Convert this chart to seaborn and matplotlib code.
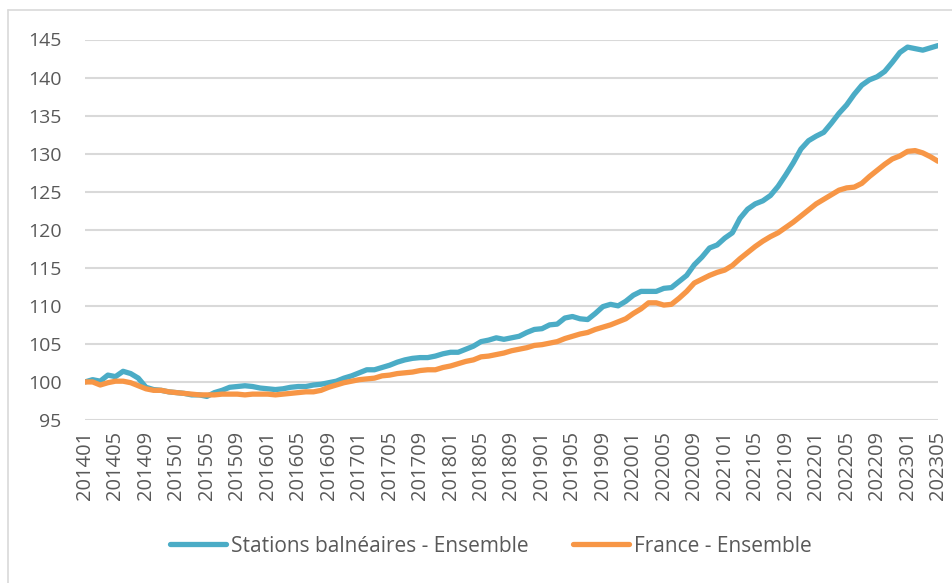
import matplotlib
matplotlib.use("Agg")
import matplotlib.pyplot as plt
import seaborn as sns
import pandas as pd
from matplotlib.lines import Line2D

# ---- data ----
months = [f"{y}{m:02d}" for y in range(2014, 2024) for m in range(1, 13)][:113]
tick_labels = months[::4]

stations = [
    100.0, 100.3, 100.1, 100.9, 100.7, 101.4, 101.1, 100.5, 99.3, 99.0,
    98.9, 98.7, 98.6, 98.5, 98.3, 98.3, 98.1, 98.6, 98.9, 99.3,
    99.4, 99.5, 99.4, 99.2, 99.1, 99.0, 99.1, 99.3, 99.4, 99.4,
    99.6, 99.7, 99.9, 100.1, 100.5, 100.8, 101.2, 101.6, 101.6, 101.9,
    102.2, 102.6, 102.9, 103.1, 103.2, 103.2, 103.4, 103.7, 103.9, 103.9,
    104.3, 104.7, 105.3, 105.5, 105.8, 105.6, 105.8, 106.0, 106.5, 106.9,
    107.0, 107.5, 107.6, 108.4, 108.6, 108.3, 108.2, 109.0, 109.9, 110.2,
    110.0, 110.6, 111.4, 111.9, 111.9, 111.9, 112.3, 112.4, 113.2, 114.0,
    115.4, 116.4, 117.6, 118.0, 118.9, 119.6, 121.5, 122.7, 123.4, 123.8,
    124.5, 125.7, 127.2, 128.8, 130.6, 131.7, 132.3, 132.8, 134.0, 135.3,
    136.4, 137.8, 139.0, 139.7, 140.1, 140.8, 142.0, 143.3, 144.0, 143.8,
    143.6, 143.9, 144.2,
]
france = [
    100.0, 100.0, 99.6, 99.9, 100.1, 100.1, 99.9, 99.5, 99.1, 98.9,
    98.9, 98.7, 98.6, 98.5, 98.4, 98.3, 98.3, 98.3, 98.4, 98.4,
    98.4, 98.3, 98.4, 98.4, 98.4, 98.3, 98.4, 98.5, 98.6, 98.7,
    98.7, 98.9, 99.3, 99.6, 99.9, 100.1, 100.3, 100.4, 100.5, 100.8,
    100.9, 101.1, 101.2, 101.3, 101.5, 101.6, 101.6, 101.9, 102.1, 102.4,
    102.7, 102.9, 103.3, 103.4, 103.6, 103.8, 104.1, 104.3, 104.5, 104.8,
    104.9, 105.1, 105.3, 105.7, 106.0, 106.3, 106.5, 106.9, 107.2, 107.5,
    107.9, 108.3, 109.0, 109.6, 110.4, 110.4, 110.1, 110.2, 111.0, 111.9,
    113.0, 113.5, 114.0, 114.4, 114.7, 115.3, 116.2, 117.0, 117.8, 118.5,
    119.1, 119.6, 120.3, 121.0, 121.8, 122.6, 123.4, 124.0, 124.6, 125.2,
    125.5, 125.6, 126.1, 127.0, 127.8, 128.6, 129.3, 129.7, 130.3, 130.4,
    130.1, 129.6, 129.0,
]
series_names = ["Stations balnéaires - Ensemble", "France - Ensemble"]
colors = ["#4bacc6", "#f79646"]
y_ticks = [95, 100, 105, 110, 115, 120, 125, 130, 135, 140, 145]

# ---- frame ----
n = len(months)
df = pd.DataFrame({
    "idx": list(range(n)) * 2,
    "value": stations + france,
    "serie": [series_names[0]] * n + [series_names[1]] * n,
})

sns.set_theme(style="white")
plt.rcParams["font.family"] = ["Open Sans", "DejaVu Sans"]
text_color = "#595959"

fig = plt.figure(figsize=(9.52, 5.83), dpi=100)
W, H = 952, 583
ax = fig.add_axes([85 / W, 1 - 420 / H, (938 - 85) / W, (420 - 39.5) / H])

sns.lineplot(data=df, x="idx", y="value", hue="serie", palette=colors,
             hue_order=series_names, linewidth=3.8, ax=ax, legend=False,
             solid_capstyle="round", solid_joinstyle="round")

ax.set_xlim(0, n - 1)
ax.set_ylim(95, 145)
ax.set_yticks(y_ticks)
ax.set_yticklabels([str(v) for v in y_ticks])
ax.set_xticks(list(range(0, n, 4)))
ax.set_xticklabels(tick_labels, rotation=90)
ax.tick_params(axis="y", length=0, pad=17, labelsize=14, labelcolor=text_color)
ax.tick_params(axis="x", length=0, pad=8, labelsize=14.5, labelcolor=text_color)
ax.set_xlabel("")
ax.set_ylabel("")
ax.grid(axis="y", color="#d9d9d9", linewidth=1.5)
ax.grid(axis="x", visible=False)
ax.set_axisbelow(True)
for s in ax.spines.values():
    s.set_visible(False)

# chart border (Excel chart area)
fig.add_artist(Line2D([8 / W, 8 / W], [1 - 10 / H, 0], transform=fig.transFigure,
                      color="#d9d9d9", linewidth=1.2))
fig.add_artist(Line2D([8 / W, 1], [1 - 10 / H, 1 - 10 / H], transform=fig.transFigure,
                      color="#d9d9d9", linewidth=1.2))

handles = [Line2D([0], [0], color=c, linewidth=3.8, solid_capstyle="round") for c in colors]
leg = fig.legend(handles, series_names, loc="center", bbox_to_anchor=(491 / W, 1 - 546 / H),
                 ncol=2, frameon=False, fontsize=15, handlelength=2.65, handletextpad=0.25,
                 columnspacing=2.15)
for t in leg.get_texts():
    t.set_color(text_color)

fig.savefig("out.png", dpi=100)
